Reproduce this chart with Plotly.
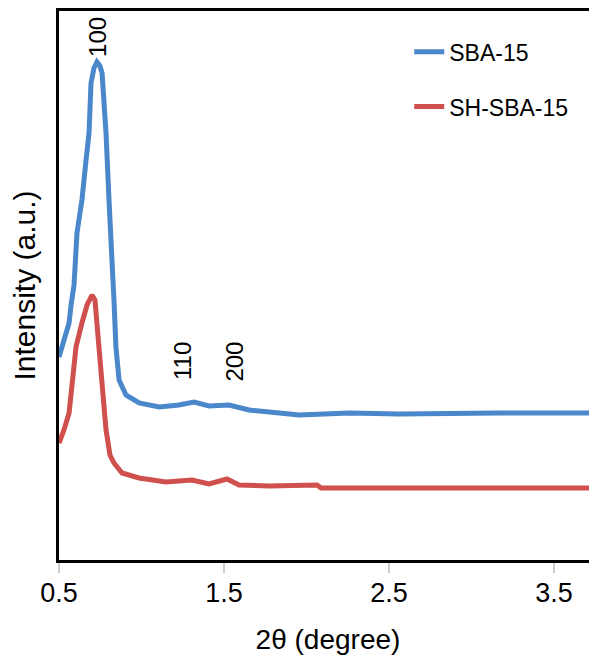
import plotly.graph_objects as go

# SBA-15 (blue) : 2theta (degree) vs intensity (a.u.)
sba_x = [0.500, 0.530, 0.561, 0.573, 0.591, 0.609, 0.639, 0.664, 0.682, 0.694,
         0.712, 0.730, 0.748, 0.761, 0.773, 0.785, 0.803, 0.821, 0.833, 0.845,
         0.864, 0.906, 0.985, 1.106, 1.227, 1.318, 1.409, 1.530, 1.652, 1.955,
         2.258, 2.561, 2.864, 3.167, 3.470, 3.760]
sba_y = [203, 220, 237, 255, 275, 327, 360, 400, 427, 477,
         492, 498, 494, 487, 460, 427, 360, 280, 260, 213,
         180, 165, 157, 153, 155, 158, 154, 155, 150, 145,
         147, 146, 147, 147, 147, 147]

# SH-SBA-15 (red)
sh_x = [0.500, 0.530, 0.561, 0.585, 0.603, 0.639, 0.670, 0.700, 0.718, 0.742,
        0.767, 0.785, 0.809, 0.833, 0.882, 0.985, 1.148, 1.306, 1.409, 1.518,
        1.591, 1.773, 2.064, 2.088, 2.561, 3.167, 3.760]
sh_y = [117, 130, 147, 190, 213, 237, 255, 265, 260, 213,
        160, 130, 105, 97, 87, 82, 78, 80, 76, 81,
        75, 74, 75, 72, 72, 72, 72]

x_ticks = [0.5, 1.5, 2.5, 3.5]
x_tick_labels = ["0.5", "1.5", "2.5", "3.5"]

peak_labels = ["100", "110", "200"]
peak_x = [0.730, 1.245, 1.558]
peak_y = [523, 199, 198]

BLUE = "#4A87CB"
RED = "#CF504D"
FONT = "Liberation Sans, Arial, sans-serif"

fig = go.Figure()
fig.add_trace(go.Scatter(x=sba_x, y=sba_y, mode="lines", name="SBA-15",
                         line=dict(color=BLUE, width=5), legend="legend"))
fig.add_trace(go.Scatter(x=sh_x, y=sh_y, mode="lines", name="SH-SBA-15",
                         line=dict(color=RED, width=5), legend="legend2"))

for t, px, py in zip(peak_labels, peak_x, peak_y):
    fig.add_annotation(x=px, y=py, xref="x", yref="y", text=t, textangle=-90,
                       showarrow=False, font=dict(size=24, color="black", family=FONT))

# page body has an 8px default margin; the figure is sized to fit the window
fig.update_layout(
    width=589, height=649,
    margin=dict(l=51, r=0, t=3, b=97),
    paper_bgcolor="white", plot_bgcolor="white",
    font=dict(family=FONT, color="black"),
    showlegend=True,
    legend=dict(x=0.651, y=0.965, xanchor="left", yanchor="top",
                font=dict(size=23), bgcolor="rgba(0,0,0,0)"),
    legend2=dict(x=0.651, y=0.865, xanchor="left", yanchor="top",
                 font=dict(size=23), bgcolor="rgba(0,0,0,0)"),
    xaxis=dict(range=[0.5, 3.76], tickvals=x_ticks, ticktext=x_tick_labels,
               showgrid=False, zeroline=False, showline=True, linecolor="black",
               linewidth=3, mirror=True, ticks="outside", ticklen=10, tickwidth=2,
               tickcolor="#cccccc", tickfont=dict(size=27), ticklabelstandoff=-3,
               automargin=False,
               title=dict(text="2θ (degree)", font=dict(size=28), standoff=22)),
    yaxis=dict(range=[0, 549], showgrid=False, zeroline=False, showline=True,
               linecolor="black", linewidth=3, showticklabels=False, ticks="",
               automargin=False,
               title=dict(text="Intensity (a.u.)", font=dict(size=30), standoff=17)),
)

fig.write_html("out.html")
